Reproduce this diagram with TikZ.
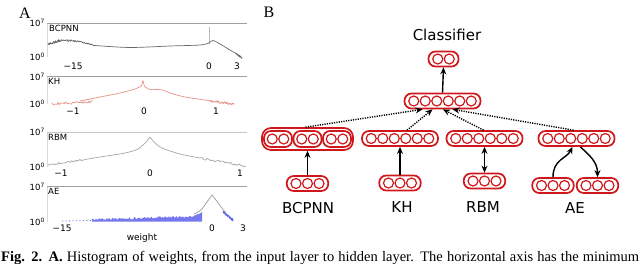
\documentclass[tikz,border=0pt]{standalone}
\usepackage{fontspec}
\setmainfont{Liberation Serif}
\newfontfamily\plotfont{DejaVu Sans}
\usetikzlibrary{arrows.meta, positioning, calc}
\definecolor{unitred}{RGB}{208, 24, 28}
\definecolor{histgray}{RGB}{105, 105, 105}
\definecolor{histpink}{RGB}{232, 145, 135}
\definecolor{histblue}{RGB}{95, 95, 235}

\tikzset{
  layerbox/.style={draw=unitred, line width=1.7pt, rounded corners=7pt,
                   minimum height=15pt, inner sep=0pt},
  unitcirc/.style={draw=unitred, line width=1.2pt},
  feed/.style={-{Stealth[length=7pt, width=6pt]}, line width=1.4pt},
  skipfeed/.style={feed, dash pattern=on 1.2pt off 1.2pt},
  modlabel/.style={font=\plotfont\fontsize{15}{15}\selectfont, inner sep=0pt},
  ticklab/.style={font=\plotfont\fontsize{9}{9}\selectfont, inner sep=0pt},
  histname/.style={font=\plotfont\fontsize{8.5}{8.5}\selectfont, inner sep=0pt, anchor=west},
  decade/.style={font=\plotfont\fontsize{8.5}{8.5}\selectfont, inner sep=0pt, anchor=east},
  topspine/.style={draw=gray!75, line width=0.9pt},
  sidespine/.style={draw=gray!30, line width=0.5pt},
  histline/.style={line width=0.7pt, line join=round}
}

% one layer: box with a row of units
\newcommand{\unitrow}[4][]{%
  \node[layerbox, minimum width={#4*11.5pt+7pt}, #1] (#2) at (#3) {};
  \foreach \k in {1,...,#4}
    \draw[unitcirc] ($(#2.center)+({(\k-(#4+1)/2)*11.5},0)$) circle (5pt);
}
% jittery straight piece of a histogram
\newcommand{\noisyline}[6][]{%
  \draw[histline, #1] plot[domain=#2:#4, samples=40]
        (\x, {#3+(#5-#3)*(\x-#2)/(#4-#2)+#6*rand});
}

\begin{document}
\begin{tikzpicture}[x=1pt, y=-1pt]
  \pgfmathsetseed{7}
  \useasboundingbox (0,0) rectangle (640,263);
  \clip (0,0) rectangle (640,263);

  % PANEL A
  \node[font=\fontsize{16}{16}\selectfont, inner sep=0pt] (tagA) at (25,13) {A};

  % BCPNN histogram
  \draw[sidespine] (47,57) -- (47,23);
  \draw[topspine] (47,23) -- (247,23);
  \node[histname] (hbc) at (49,28) {BCPNN};
  \node[decade] (hbctop) at (45,23) {10\textsuperscript{7}};
  \node[decade] (hbcbot) at (45,57) {10\textsuperscript{0}};
  \noisyline[histgray]{48}{44}{60}{40.5}{1.2}
  \noisyline[histgray]{60}{40.5}{78}{41}{1.0}
  \noisyline[histgray]{78}{41}{95}{45.5}{0.6}
  \draw[histgray, histline] plot[smooth] coordinates
        {(95,45.5) (130,47.5) (170,46) (200,45) (209,43)};
  \draw[gray!55, line width=0.8pt] (209,27) -- (209,44);
  \draw[histgray, histline] plot[smooth] coordinates
        {(209,43) (213,40.5) (220,44) (230,50) (237,54)};
  \noisyline[histgray]{236}{53.5}{242}{58}{0.8}
  \node[ticklab] (hbc1) at (73,66) {−15};
  \node[ticklab] (hbc2) at (209,66) {0};
  \node[ticklab] (hbc3) at (237,66) {3};

  % KH histogram
  \draw[sidespine] (47,104) -- (47,76);
  \draw[topspine] (47,76) -- (247,76);
  \node[histname] (hkh) at (48,81.5) {KH};
  \node[decade] (hkhtop) at (45,77) {10\textsuperscript{7}};
  \node[decade] (hkhbot) at (45,104) {10\textsuperscript{0}};
  \noisyline[histpink]{52}{104}{92}{101.5}{1.3}
  \draw[histpink, histline] plot[smooth] coordinates
        {(80,101) (100,97) (120,93) (135,89) (141.5,86)}
        -- (143,80.5) -- plot[smooth] coordinates
        {(144.5,86.5) (150,89.5) (158,89.5) (163,90) (170,93) (185,97) (205,100) (212,101)};
  \noisyline[histpink]{210}{101}{234}{104}{1.3}
  \node[ticklab] (hkh1) at (73,111) {−1};
  \node[ticklab] (hkh2) at (144,111) {0};
  \node[ticklab] (hkh3) at (216,111) {1};

  % RBM histogram
  \draw[sidespine] (47,167) -- (47,132);
  \draw[topspine, draw=gray!45] (47,132) -- (247,132);
  \node[histname] (hrbm) at (48,137) {RBM};
  \node[decade] (hrbmtop) at (45,132) {10\textsuperscript{7}};
  \node[decade] (hrbmbot) at (45,167) {10\textsuperscript{0}};
  \noisyline[gray!70]{48}{165}{85}{159.5}{1.0}
  \draw[gray!70, histline] plot[smooth] coordinates
        {(85,159.5) (100,157) (125,153) (138,149) (146,142) (150,137)}
        -- plot[smooth] coordinates
        {(150,137) (154,142) (162,148) (180,154) (200,158)};
  \noisyline[gray!70]{200}{158}{246}{166}{1.1}
  \node[ticklab] (hrbm1) at (61,173) {−1};
  \node[ticklab] (hrbm2) at (150,173) {0};
  \node[ticklab] (hrbm3) at (240,173) {1};

  % AE histogram
  \draw[sidespine] (47,222) -- (47,186);
  \draw[topspine] (47,186) -- (247,186);
  \node[histname] (hae) at (48,191) {AE};
  \node[decade] (haetop) at (45,187) {10\textsuperscript{7}};
  \node[decade] (haebot) at (45,222) {10\textsuperscript{0}};
  \draw[histblue, line width=0.8pt, dash pattern=on 1pt off 2.5pt] (62,221) -- (92,220.5);
  \fill[histblue!85] (92,221.5)
        -- plot[domain=92:192, samples=110] (\x, {219.5-3*(\x-92)/100+1.2*rand})
        -- plot[domain=192:202, samples=10] (\x, {216.5-4*(\x-192)/10+0.8*rand})
        -- (202,221.5) -- cycle;
  \draw[gray!80, histline] plot[smooth] coordinates
        {(194,214) (201,210) (207,202) (212,195)} -- plot[smooth] coordinates
        {(212,195) (216,200) (221,207) (226,213)};
  \noisyline[histblue, line width=0.9pt]{223}{212}{233}{220}{1.2}
  \node[ticklab] (hae1) at (62,228) {−15};
  \node[ticklab] (hae2) at (212,228) {0};
  \node[ticklab] (hae3) at (243,228) {3};
  \node[ticklab] (weight) at (142,238) {weight};

  % PANEL B
  \node[font=\fontsize{16}{16}\selectfont, inner sep=0pt] (tagB) at (269,12) {B};
  \node[modlabel] (clslabel) at (447,35) {Classifier};

  % classifier and shared hidden layer
  \unitrow{cls}{443.5,59}{2}
  \unitrow{hid}{442.5,101}{6}
  \draw[feed] (hid.north) -- (cls.south);

  % BCPNN module
  \node[layerbox, minimum width=91pt, minimum height=22pt, rounded corners=9pt] (bcout) at (307.5,139) {};
  \unitrow[minimum width=28pt, minimum height=16pt]{bca}{278,139}{2}
  \unitrow[minimum width=28pt, minimum height=16pt]{bcb}{307.5,139}{2}
  \unitrow[minimum width=28pt, minimum height=16pt]{bcc}{337,139}{2}
  \unitrow{bcin}{307.5,183.5}{3}
  \draw[feed] (bcin.north) -- (bcout.south);
  \node[modlabel] (bclabel) at (308,208) {BCPNN};

  % KH module
  \unitrow{khtop}{400,138.5}{6}
  \unitrow{khin}{400,183}{3}
  \draw[feed] (khin.north) -- (khtop.south);
  \node[modlabel] (khlabel) at (402,207) {KH};

  % RBM module
  \unitrow{rbmtop}{484.5,138.5}{6}
  \unitrow{rbmin}{484.5,181}{3}
  \draw[{Stealth[length=7pt, width=6pt]}-{Stealth[length=7pt, width=6pt]}, line width=1.4pt]
        (rbmin.north) -- (rbmtop.south);
  \node[modlabel] (rbmlabel) at (483,207) {RBM};

  % AE module
  \unitrow{aetop}{576.5,138.5}{6}
  \unitrow{aein}{553,185.5}{3}
  \unitrow{aeout}{597.5,185.5}{3}
  \draw[feed] (aein.north) .. controls +(0,-18) and +(-6,12) .. ($(aetop.south)+(-4,0)$);
  \draw[feed] ($(aetop.south)+(4,0)$) .. controls +(8,8) and +(0,-16) .. (aeout.north);
  \node[modlabel] (aelabel) at (575,208) {AE};

  % modules into hidden layer
  \draw[skipfeed] ($(bcout.north)+(-2,0)$) -- ($(hid.south)+(-20,0)$);
  \draw[skipfeed] ($(khtop.north)+(7,0)$) -- ($(hid.south)+(-10,0)$);
  \draw[skipfeed] ($(rbmtop.north)+(-1,0)$) -- ($(hid.south)+(0.5,0)$);
  \draw[skipfeed] ($(aetop.north)+(-3,0)$) -- ($(hid.south)+(10,0)$);

  % CAPTION
  \node[anchor=base west, inner sep=0pt] (caption) at (1,261)
        {\fontsize{14.5}{14.5}\selectfont\hbox to 638pt{\textbf{Fig. 2. A.} Histogram of weights, from the input layer to hidden layer. The horizontal axis has the minimum}};
\end{tikzpicture}
\end{document}
